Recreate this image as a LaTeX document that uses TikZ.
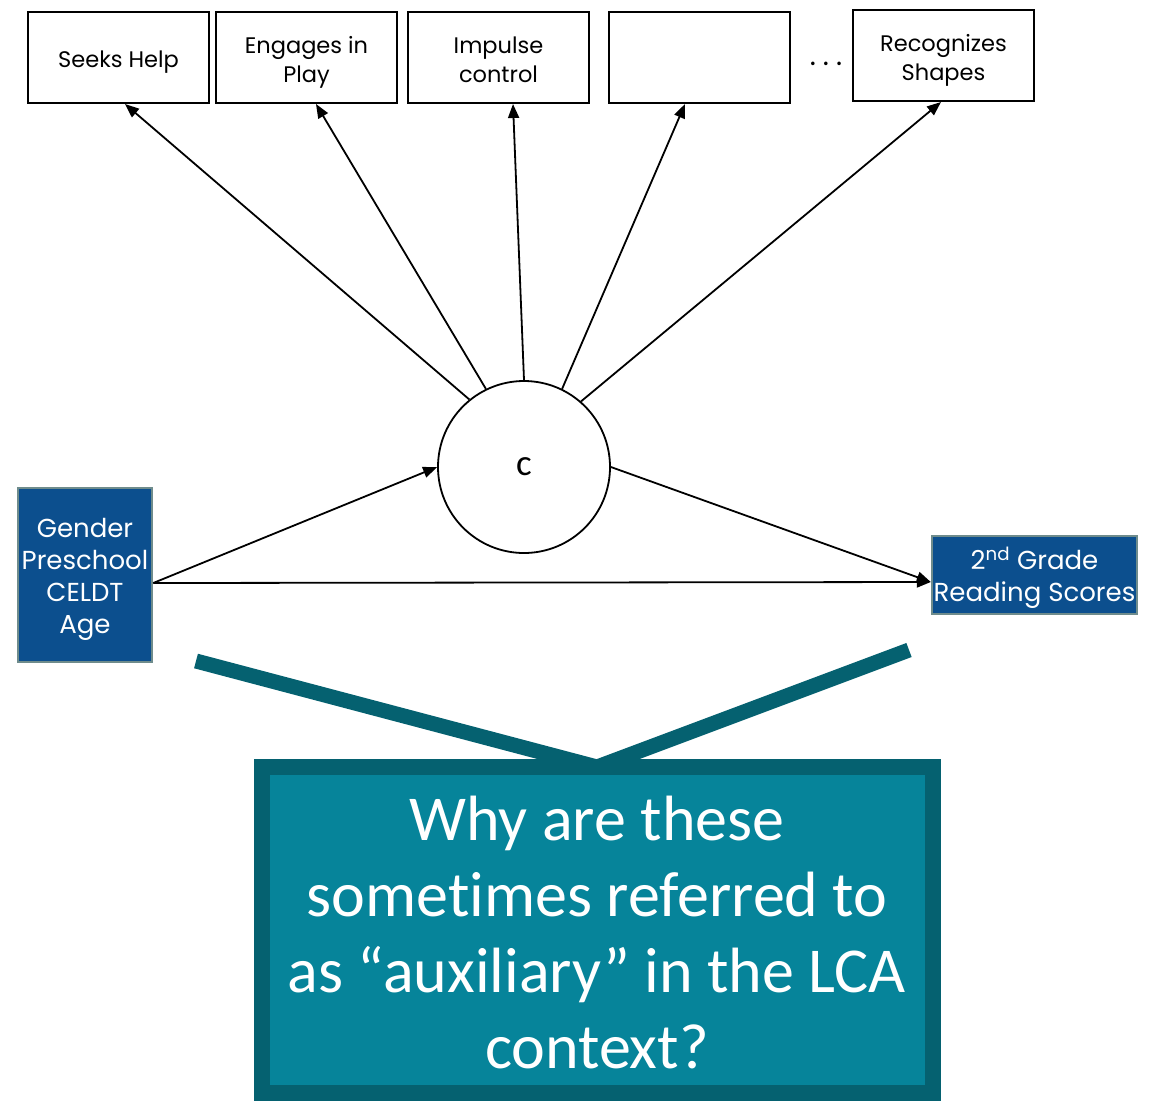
\documentclass[tikz,border=0pt]{standalone}
\usepackage{fontspec}
\setmainfont{Poppins}
\newfontfamily\calib[Ligatures=CommonOff]{Carlito}
\usetikzlibrary{arrows.meta}

\definecolor{covblue}{RGB}{12,79,142}
\definecolor{covedge}{RGB}{111,140,140}
\definecolor{tealdark}{RGB}{5,97,112}
\definecolor{tealfill}{RGB}{6,132,154}

% centred lines, set a little lower than the box centre
\newcommand{\lowlines}[1]{%
  \raisebox{-4.5pt}[\height][\depth]{\begin{tabular}{@{}c@{}}#1\end{tabular}}}

\begin{document}
\begin{tikzpicture}[x=1pt,y=-1pt,
  indicator/.style={draw=black, line width=2pt, fill=white,
    minimum width=181pt, minimum height=91pt, inner sep=0pt,
    font=\fontsize{22.5}{29}\selectfont},
  covbox/.style={draw=covedge, line width=2.5pt, fill=covblue, text=white,
    inner sep=0pt, font=\fontsize{26}{32}\selectfont},
  latent/.style={circle, draw=black, line width=1.8pt, minimum size=172pt,
    inner sep=0pt, font=\calib\fontsize{37}{37}\selectfont},
  path/.style={line width=1.8pt, -{Triangle[length=14pt,width=11pt]}},
  callout/.style={draw=tealdark, line width=16pt, fill=tealfill,
    minimum width=671pt, minimum height=326pt, inner sep=0pt},
  callouttext/.style={text=white, align=center, inner sep=0pt,
    font=\calib\fontsize{64}{76}\selectfont},
  pointer/.style={draw=tealdark, line width=15pt, line join=miter}
]
\useasboundingbox (0,0) rectangle (1150,1101);

% class indicators
\node[indicator] (s1) at (118.5,57.5) {\lowlines{Seeks Help}};
\node[indicator] (s2) at (306.5,57.5) {\lowlines{Engages in\\Play}};
\node[indicator] (s3) at (498.5,57.5) {\lowlines{Impulse\\control}};
\node[indicator] (s4) at (699.5,57.5) {};
\node[indicator] (s5) at (943.5,55.5) {\lowlines{Recognizes\\Shapes}};
\node (dots) at (826,64) {\fontsize{29}{29}\selectfont .\hspace{7pt}.\hspace{7pt}.};

% latent class variable
\node[latent] (c) at (524,467) {c};

% covariates and distal outcome
\node[covbox, minimum width=134pt, minimum height=174pt] (cov) at (85,575)
  {\lowlines{Gender\\Preschool\\CELDT\\Age}};
\node[covbox, minimum width=205pt, minimum height=78pt] (dist) at (1034.5,575)
  {\lowlines{2\textsuperscript{nd} Grade\\Reading Scores}};

% measurement paths
\draw[path] (c.129.5) -- ([xshift=6.5pt]s1.south);
\draw[path] (c.116) -- ([xshift=9.5pt]s2.south);
\draw[path] (c.90) -- ([xshift=14.5pt]s3.south);
\draw[path] (c.64) -- ([xshift=-14.5pt]s4.south);
\draw[path] (c.49) -- ([xshift=-2.5pt]s5.south);

% structural paths
\draw[path] ([yshift=-8pt]cov.east) -- (c.west);
\draw[path] ([yshift=-8pt]cov.east) -- ([yshift=-7pt]dist.west);
\draw[path] (c.east) -- ([yshift=-7pt]dist.west);

% question callout
\node[callout] (q) at (597.5,930) {};
\node[callouttext] (qt) at (597,932)
  {Why are these\\sometimes referred to\\as “auxiliary” in the LCA\\context?};
\coordinate (tip) at (597,767);
\coordinate (pl) at (196,661);
\coordinate (pr) at (909,650);
\draw[pointer] (pl) -- (tip) -- (pr);
\end{tikzpicture}
\end{document}
